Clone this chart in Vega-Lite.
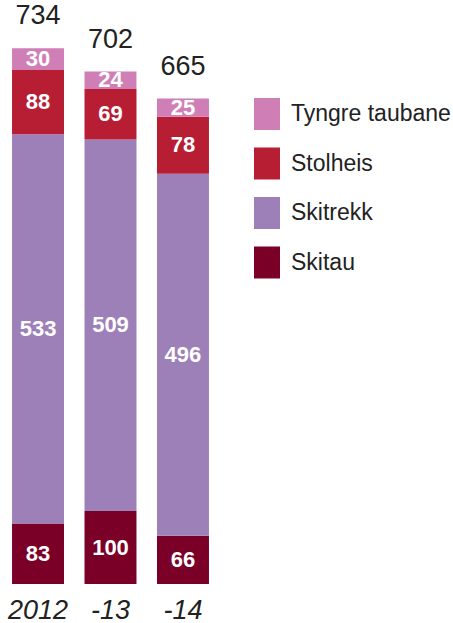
{
  "$schema": "https://vega.github.io/schema/vega-lite/v6.json",
  "width": 221,
  "height": 584,
  "autosize": {"type": "none"},
  "padding": {"left": 0, "top": 0, "right": 232, "bottom": 39},
  "config": {"view": {"stroke": null}, "font": "Liberation Sans"},
  "data": {
    "values": [
      {"year": "2012", "type": "Skitau", "value": 83},
      {"year": "2012", "type": "Skitrekk", "value": 533},
      {"year": "2012", "type": "Stolheis", "value": 88},
      {"year": "2012", "type": "Tyngre taubane", "value": 30},
      {"year": "-13", "type": "Skitau", "value": 100},
      {"year": "-13", "type": "Skitrekk", "value": 509},
      {"year": "-13", "type": "Stolheis", "value": 69},
      {"year": "-13", "type": "Tyngre taubane", "value": 24},
      {"year": "-14", "type": "Skitau", "value": 66},
      {"year": "-14", "type": "Skitrekk", "value": 496},
      {"year": "-14", "type": "Stolheis", "value": 78},
      {"year": "-14", "type": "Tyngre taubane", "value": 25}
    ]
  },
  "transform": [
    {"stack": "value", "groupby": ["year"], "sort": [{"field": "type", "order": "ascending"}], "as": ["y0", "y1"]},
    {"calculate": "(datum.y0 + datum.y1) / 2", "as": "ymid"}
  ],
  "encoding": {
    "x": {
      "field": "year", "type": "nominal", "sort": ["2012", "-13", "-14"], "title": null,
      "scale": {"paddingInner": 0.283, "paddingOuter": 0.166},
      "axis": {"domain": false, "ticks": false, "tickSize": 0, "labelAngle": 0, "labelFontSize": 27, "labelFontStyle": "italic", "labelColor": "#222222", "labelBaseline": "alphabetic", "labelPadding": 34}
    }
  },
  "layer": [
    {
      "mark": {"type": "bar", "strokeWidth": 0},
      "encoding": {
        "y": {"field": "y0", "type": "quantitative", "scale": {"domain": [0, 798]}, "axis": null},
        "y2": {"field": "y1"},
        "color": {
          "field": "type", "type": "nominal",
          "scale": {"domain": ["Tyngre taubane", "Stolheis", "Skitrekk", "Skitau"], "range": ["#CF7FB5", "#B81E33", "#9E80B8", "#7A0028"]},
          "legend": {"orient": "none", "legendX": 251, "legendY": 98, "title": null, "padding": 0, "symbolType": "M-0.8125,-1H0.8125V1H-0.8125Z", "symbolSize": 1024, "symbolStrokeWidth": 0, "symbolOpacity": 1, "labelFontSize": 23, "labelOffset": 8, "rowPadding": 17.5, "labelColor": "#222222", "labelLimit": 300}
        }
      }
    },
    {
      "mark": {"type": "text", "color": "white", "fontWeight": "bold", "fontSize": 22, "baseline": "middle"},
      "encoding": {
        "y": {"field": "ymid", "type": "quantitative"},
        "text": {"field": "value", "type": "quantitative"}
      }
    },
    {
      "transform": [{"aggregate": [{"op": "sum", "field": "value", "as": "total"}], "groupby": ["year"]}],
      "mark": {"type": "text", "color": "#222222", "fontSize": 27, "baseline": "alphabetic", "dy": -24},
      "encoding": {
        "y": {"field": "total", "type": "quantitative"},
        "text": {"field": "total", "type": "quantitative"}
      }
    }
  ]
}
